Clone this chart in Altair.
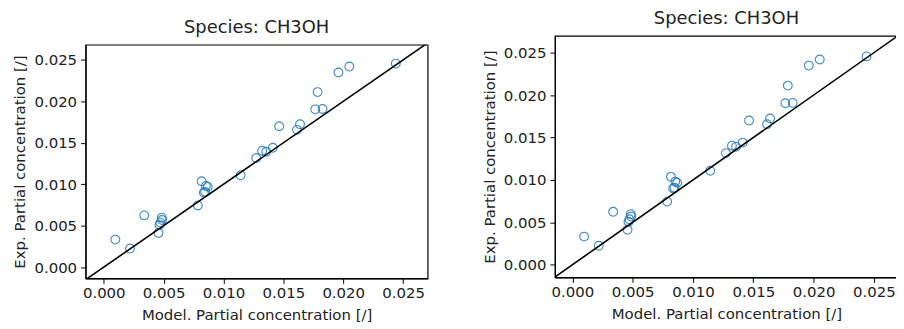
import altair as alt
import pandas as pd

species = "CH3OH"
model = [0.00097, 0.00219, 0.00338, 0.00457, 0.00465, 0.00473, 0.00487, 0.00484,
         0.00786, 0.00817, 0.00836, 0.00847, 0.00853, 0.00869, 0.01143, 0.01273,
         0.01323, 0.01357, 0.01412, 0.01465, 0.01614, 0.01639, 0.01766, 0.01786,
         0.01827, 0.01960, 0.02051, 0.02439]
exp = [0.00332, 0.00224, 0.00624, 0.00412, 0.00508, 0.00536, 0.00568, 0.00596,
       0.00744, 0.01036, 0.00900, 0.00908, 0.00980, 0.00968, 0.01108, 0.01316,
       0.01404, 0.01392, 0.01440, 0.01700, 0.01656, 0.01724, 0.01904, 0.02112,
       0.01908, 0.02348, 0.02420, 0.02456]
ticks = [0.0, 0.005, 0.010, 0.015, 0.020, 0.025]
ident = [-0.002, 0.028]

df = pd.DataFrame({"model": model, "exp": exp})
line_df = pd.DataFrame({"v": ident})
frame_df = pd.DataFrame({"f": [0]})

FONT = "DejaVu Sans"


def panel(w, h, xdom, ydom):
    xs = alt.Scale(domain=xdom, nice=False, zero=False)
    ys = alt.Scale(domain=ydom, nice=False, zero=False)
    xax = alt.Axis(values=ticks, format=".3f", title="Model. Partial concentration [/]",
                   labelPadding=2, titlePadding=7)
    yax = alt.Axis(values=ticks, format=".3f", title="Exp. Partial concentration [/]")
    pts = alt.Chart(df).mark_point(
        shape="circle", filled=False, size=78, strokeWidth=1.1,
        color="#1f77b4", opacity=0.85, clip=True
    ).encode(x=alt.X("model:Q", scale=xs, axis=xax),
             y=alt.Y("exp:Q", scale=ys, axis=yax))
    line = alt.Chart(line_df).mark_line(color="black", strokeWidth=1.6, clip=True).encode(
        x=alt.X("v:Q", scale=xs), y=alt.Y("v:Q", scale=ys))
    return alt.layer(pts, line).properties(
        width=w, height=h, title=alt.TitleParams(f"Species: {species}", offset=8))


def spacer(h):
    return alt.Chart(frame_df).mark_point(opacity=0, size=1).properties(
        width=1, height=h, view=alt.ViewBackground(stroke=None))


left = panel(344, 235, [-0.00152, 0.02705], [-0.00136, 0.02684])
right = panel(345, 243, [-0.00145, 0.0270], [-0.00149, 0.0270])

left_col = alt.vconcat(spacer(10), left, spacing=0)
right_col = alt.vconcat(spacer(1), right, spacing=0)

chart = alt.hconcat(left_col, right_col, spacing=53).properties(
    padding={"left": 4, "top": -1, "right": -3, "bottom": 0}
).configure_view(stroke="black", strokeWidth=1.2).configure_axis(
    grid=False, domainColor="black", domainWidth=1.2, tickColor="black", tickSize=5,
    labelFont=FONT, titleFont=FONT, labelFontSize=15, titleFontSize=15,
    titleFontWeight="normal", labelColor="#222", titleColor="#222",
    labelPadding=4, titlePadding=6
).configure_title(font=FONT, fontSize=18, fontWeight="normal", color="#222")

chart.save("out.html", embed_options={"renderer": "svg", "actions": False})
